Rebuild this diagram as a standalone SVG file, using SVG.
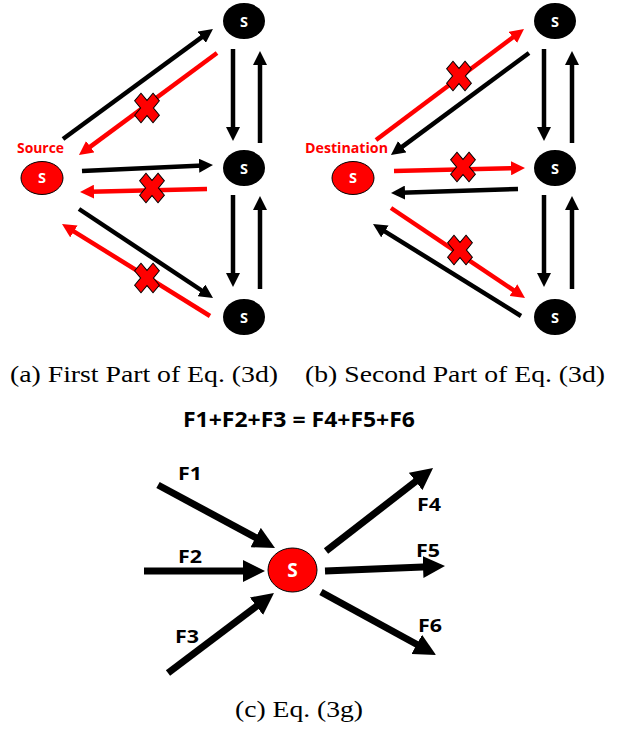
<svg xmlns="http://www.w3.org/2000/svg" xmlns:xlink="http://www.w3.org/1999/xlink" width="623" height="729" viewBox="0 0 623 729">
<style>
.bl{stroke:#000;stroke-width:4.5;fill:none}
.rd{stroke:#ff0000;stroke-width:4.5;fill:none}
.bk{stroke:#000;stroke-width:7;fill:none}
.nb{fill:#000}
.nr{fill:#ff0000;stroke:#000;stroke-width:1}
.sl{font-family:"Open Sans","Liberation Sans",sans-serif;font-weight:bold;fill:#fff;text-anchor:middle}
.ss{font-size:14.5px}
.lb{font-family:"Open Sans","Liberation Sans",sans-serif;font-weight:bold}
.cap{font-family:"Times New Roman","Liberation Serif",Times,serif;font-size:23px;fill:#000}
</style>
<defs>
<marker id="hb" viewBox="0 0 14 14" markerWidth="14" markerHeight="14" refX="4" refY="7" orient="auto" markerUnits="userSpaceOnUse"><path d="M0,0 L14,7 L0,14 z" fill="#000"/></marker>
<marker id="hr" viewBox="0 0 14 14" markerWidth="14" markerHeight="14" refX="4" refY="7" orient="auto" markerUnits="userSpaceOnUse"><path d="M0,0 L14,7 L0,14 z" fill="#ff0000"/></marker>
<marker id="hk" viewBox="0 0 22 22" markerWidth="22" markerHeight="22" refX="6" refY="11" orient="auto" markerUnits="userSpaceOnUse"><path d="M0,0 L22,11 L0,22 z" fill="#000"/></marker>
<g id="x" transform="scale(1,1.2) rotate(45)"><polygon points="-4.5,-13 4.5,-13 4.5,-4.5 13,-4.5 13,4.5 4.5,4.5 4.5,13 -4.5,13 -4.5,4.5 -13,4.5 -13,-4.5 -4.5,-4.5" fill="#ff0000" stroke="#000" stroke-width="0.9"/></g>
</defs>

<g id="connectors">
<!-- panel a -->
<line class="bl" x1="63" y1="139" x2="204.9" y2="34.9" marker-end="url(#hb)"/>
<line class="rd" x1="217" y1="53" x2="87" y2="149.1" marker-end="url(#hr)"/>
<line class="bl" x1="82" y1="171" x2="203" y2="165.5" marker-end="url(#hb)"/>
<line class="rd" x1="207" y1="189" x2="90" y2="191.8" marker-end="url(#hr)"/>
<line class="bl" x1="79" y1="209" x2="204.7" y2="292.5" marker-end="url(#hb)"/>
<line class="rd" x1="210" y1="316" x2="70.5" y2="229.3" marker-end="url(#hr)"/>
<line class="bl" x1="233" y1="49" x2="233" y2="131" marker-end="url(#hb)"/>
<line class="bl" x1="260" y1="143" x2="260" y2="61" marker-end="url(#hb)"/>
<line class="bl" x1="233" y1="195" x2="233" y2="277" marker-end="url(#hb)"/>
<line class="bl" x1="260" y1="289" x2="260" y2="206" marker-end="url(#hb)"/>
<!-- panel b -->
<line class="rd" x1="376" y1="140" x2="516" y2="35" marker-end="url(#hr)"/>
<line class="bl" x1="529" y1="53" x2="399" y2="149.1" marker-end="url(#hb)"/>
<line class="rd" x1="394" y1="171" x2="515" y2="168.2" marker-end="url(#hr)"/>
<line class="bl" x1="518" y1="189" x2="401" y2="192.7" marker-end="url(#hb)"/>
<line class="rd" x1="391" y1="208" x2="516.7" y2="292.4" marker-end="url(#hr)"/>
<line class="bl" x1="521" y1="316" x2="381.5" y2="229.3" marker-end="url(#hb)"/>
<line class="bl" x1="544" y1="49" x2="544" y2="131" marker-end="url(#hb)"/>
<line class="bl" x1="572" y1="143" x2="572" y2="61" marker-end="url(#hb)"/>
<line class="bl" x1="544" y1="195" x2="544" y2="277" marker-end="url(#hb)"/>
<line class="bl" x1="572" y1="289" x2="572" y2="206" marker-end="url(#hb)"/>
<!-- panel c -->
<line class="bk" x1="158" y1="485" x2="260.9" y2="540.4" marker-end="url(#hk)"/>
<line class="bk" x1="144" y1="571" x2="249" y2="571" marker-end="url(#hk)"/>
<line class="bk" x1="168" y1="673" x2="261.2" y2="602.6" marker-end="url(#hk)"/>
<line class="bk" x1="326" y1="551" x2="420.4" y2="477.8" marker-end="url(#hk)"/>
<line class="bk" x1="325" y1="571" x2="429" y2="566.7" marker-end="url(#hk)"/>
<line class="bk" x1="321" y1="592" x2="422" y2="647.3" marker-end="url(#hk)"/>
</g>

<g id="crosses">
<use xlink:href="#x" href="#x" transform="translate(147,108)"/>
<use xlink:href="#x" href="#x" transform="translate(152,188)"/>
<use xlink:href="#x" href="#x" transform="translate(147,278)"/>
<use xlink:href="#x" href="#x" transform="translate(459,76)"/>
<use xlink:href="#x" href="#x" transform="translate(463,167)"/>
<use xlink:href="#x" href="#x" transform="translate(460,250)"/>
</g>

<!-- panel a nodes -->
<g id="a-src"><ellipse class="nr" cx="42" cy="178" rx="21" ry="16.5"/><text class="sl ss" x="42" y="183">S</text>
<text class="lb" x="17" y="153" font-size="14" fill="#ff0000" textLength="47" lengthAdjust="spacingAndGlyphs">Source</text></g>
<g id="a-top"><ellipse class="nb" cx="244" cy="21" rx="21" ry="18"/><text class="sl ss" x="244" y="26.5">S</text></g>
<g id="a-mid"><ellipse class="nb" cx="244" cy="168" rx="21" ry="18"/><text class="sl ss" x="244" y="173.5">S</text></g>
<g id="a-bot"><ellipse class="nb" cx="244" cy="317" rx="21" ry="18"/><text class="sl ss" x="244" y="322.5">S</text></g>

<!-- panel b nodes -->
<g id="b-dst"><ellipse class="nr" cx="353" cy="178" rx="21" ry="16.5"/><text class="sl ss" x="353" y="183">S</text>
<text class="lb" x="305" y="153" font-size="14" fill="#ff0000" textLength="83" lengthAdjust="spacingAndGlyphs">Destination</text></g>
<g id="b-top"><ellipse class="nb" cx="555" cy="21" rx="21" ry="18"/><text class="sl ss" x="555" y="26.5">S</text></g>
<g id="b-mid"><ellipse class="nb" cx="555" cy="168" rx="21" ry="18"/><text class="sl ss" x="555" y="173.5">S</text></g>
<g id="b-bot"><ellipse class="nb" cx="555" cy="317" rx="21" ry="18"/><text class="sl ss" x="555" y="322.5">S</text></g>

<text class="cap" x="10" y="382" textLength="268" lengthAdjust="spacingAndGlyphs">(a) First Part of Eq. (3d)</text>
<text class="cap" x="305" y="382" textLength="300" lengthAdjust="spacingAndGlyphs">(b) Second Part of Eq. (3d)</text>

<text class="lb" x="183" y="427" font-size="21" fill="#000" textLength="232" lengthAdjust="spacingAndGlyphs">F1+F2+F3 = F4+F5+F6</text>

<!-- panel c -->
<g id="c-node"><ellipse class="nr" cx="292.5" cy="570" rx="24.5" ry="22"/><text class="sl" x="292.5" y="577" font-size="19">S</text></g>
<g id="c-labels">
<text class="lb" x="178" y="480" font-size="18" textLength="24" lengthAdjust="spacingAndGlyphs">F1</text>
<text class="lb" x="178" y="563" font-size="18" textLength="24" lengthAdjust="spacingAndGlyphs">F2</text>
<text class="lb" x="175" y="643" font-size="18" textLength="24" lengthAdjust="spacingAndGlyphs">F3</text>
<text class="lb" x="417" y="511" font-size="18" textLength="24" lengthAdjust="spacingAndGlyphs">F4</text>
<text class="lb" x="416" y="557" font-size="18" textLength="24" lengthAdjust="spacingAndGlyphs">F5</text>
<text class="lb" x="418" y="632" font-size="18" textLength="24" lengthAdjust="spacingAndGlyphs">F6</text>
</g>
<text class="cap" x="235" y="717" textLength="128" lengthAdjust="spacingAndGlyphs">(c) Eq. (3g)</text>
</svg>
